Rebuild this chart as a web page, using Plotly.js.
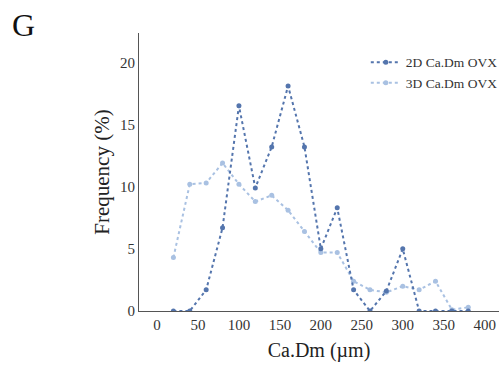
<!DOCTYPE html>
<html>
<head>
<meta charset="utf-8">
<script src="https://cdn.plot.ly/plotly-3.0.1.min.js"></script>
<style>
  html, body { margin: 0; padding: 0; background: #fff; }
  #chart { width: 503px; height: 366px; }
</style>
</head>
<body>
<div id="chart"></div>
<script>
// Cavity diameter bins (µm)
const diameters = [20, 40, 60, 80, 100, 120, 140, 160, 180, 200, 220, 240, 260, 280, 300, 320, 340, 360, 380];

// Frequency (%) per bin
const freq2D = [0, 0, 1.7, 6.7, 16.5, 9.9, 13.2, 18.1, 13.2, 5.0, 8.3, 1.7, 0, 1.6, 5.0, 0, 0, 0, 0];
const freq3D = [4.3, 10.2, 10.3, 11.9, 10.2, 8.8, 9.3, 8.1, 6.4, 4.7, 4.7, 2.4, 1.7, 1.5, 2.0, 1.7, 2.4, 0.1, 0.3];

const seriesNames = ['2D Ca.Dm OVX', '3D Ca.Dm OVX'];
const xTicks = [0, 50, 100, 150, 200, 250, 300, 350, 400];
const yTicks = [0, 5, 10, 15, 20];

const serif = 'Liberation Serif, Times New Roman, serif';

const traces = [
  {
    x: diameters, y: freq3D, name: seriesNames[1],
    type: 'scatter', mode: 'lines+markers',
    line: { color: '#a9c1e2', width: 2, dash: 'dot' },
    marker: { color: '#a9c1e2', size: 5 },
    legendrank: 2
  },
  {
    x: diameters, y: freq2D, name: seriesNames[0],
    type: 'scatter', mode: 'lines+markers',
    line: { color: '#5475ad', width: 2, dash: 'dot' },
    marker: { color: '#5475ad', size: 5 },
    legendrank: 1
  }
];

const layout = {
  width: 503, height: 366,
  margin: { l: 139, r: 0, t: 33, b: 55 },
  paper_bgcolor: '#fff', plot_bgcolor: '#fff',
  font: { family: serif, color: '#222', size: 15 },
  showlegend: true,
  legend: {
    x: 0.63, y: 0.95, xanchor: 'left', yanchor: 'top',
    font: { family: serif, size: 13.5, color: '#333' },
    bgcolor: 'rgba(0,0,0,0)', tracegroupgap: 0
  },
  xaxis: {
    range: [-22, 417.5],
    tickvals: xTicks, ticks: '',
    ticklabeloverflow: 'allow',
    showgrid: false, zeroline: false,
    showline: true, linecolor: '#555', linewidth: 1,
    tickfont: { family: serif, size: 15, color: '#333' },
    title: { text: 'Ca.Dm (µm)', font: { family: serif, size: 20, color: '#222' }, standoff: 10 }
  },
  yaxis: {
    range: [0, 22.36],
    tickvals: yTicks, ticks: '',
    showgrid: false, zeroline: false,
    showline: true, linecolor: '#555', linewidth: 1,
    tickfont: { family: serif, size: 15, color: '#333' },
    title: { text: 'Frequency (%)', font: { family: serif, size: 21, color: '#222' }, standoff: 4 }
  },
  annotations: [
    {
      text: 'G', xref: 'paper', yref: 'paper',
      x: -0.357, y: 1.03, xanchor: 'left', yanchor: 'middle',
      showarrow: false,
      font: { family: serif, size: 32, color: '#111' }
    }
  ]
};

Plotly.newPlot('chart', traces, layout, { displayModeBar: false, staticPlot: true });
</script>
</body>
</html>
